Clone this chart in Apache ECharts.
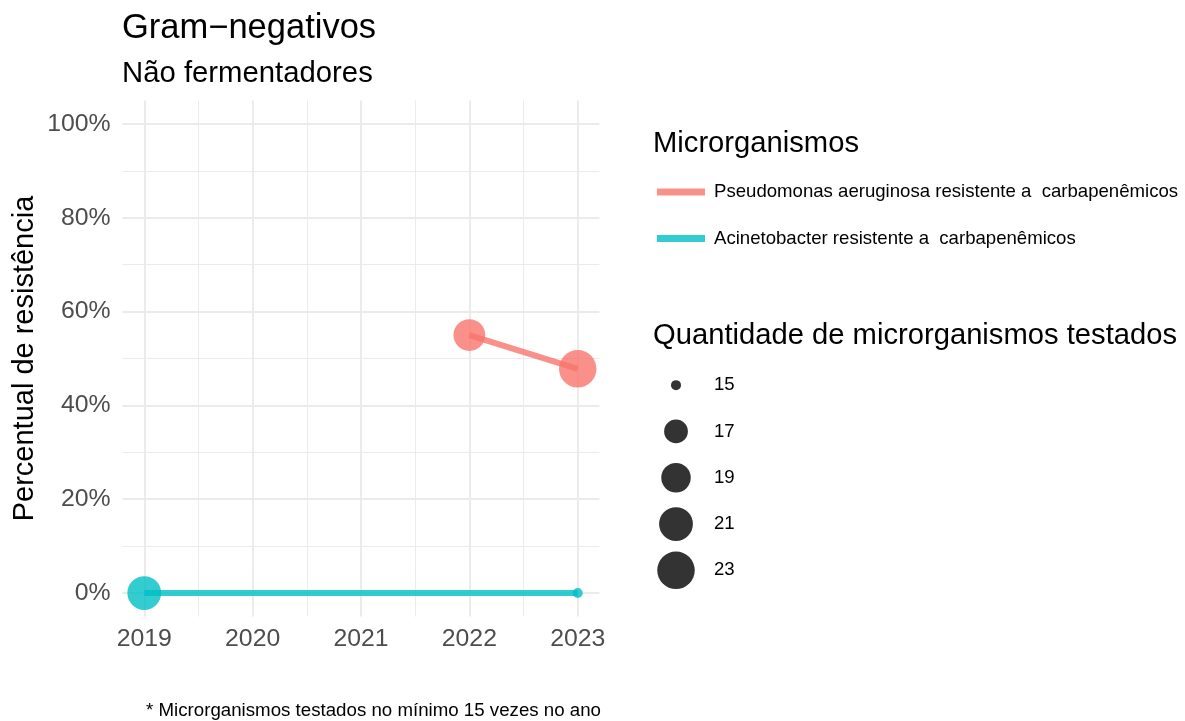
<!DOCTYPE html>
<html>
<head>
<meta charset="utf-8">
<script src="https://cdn.jsdelivr.net/npm/echarts@6/dist/echarts.min.js"></script>
<style>
	html, body { margin: 0; padding: 0; background: #fff; }
	#chart { width: 1185px; height: 721px; }
</style>
</head>
<body>
<div id="chart"></div>
<script>
var years = [2019, 2020, 2021, 2022, 2023];
var minorYears = [2019.5, 2020.5, 2021.5, 2022.5];
var yTicks = [0, 20, 40, 60, 80, 100];
var yMinor = [10, 30, 50, 70, 90];

var pseudoName = 'Pseudomonas aeruginosa resistente a  carbapenêmicos';
var pseudoYears = [2022, 2023];
var pseudoPct = [55, 47.8];
var pseudoN = [20, 23];

var acinetoName = 'Acinetobacter resistente a  carbapenêmicos';
var acinetoYears = [2019, 2023];
var acinetoPct = [0, 0];
var acinetoN = [21, 15];

var sizeBreaks = [15, 17, 19, 21, 23];

var font = 'Liberation Sans';

// ggplot style area scale: n 15..23 -> diameter in px
function pointSize(n) {
	return 10 + 27.5 * Math.sqrt((n - 15) / 8);
}

function rows(xs, ys, ns) {
	return xs.map(function(x, i) { return [x, ys[i], ns[i]]; });
}

var myChart = echarts.init(document.getElementById('chart'));

function lineSeries(name, color, data) {
	return {
		name: name,
		type: 'line',
		xAxisIndex: 0,
		yAxisIndex: 0,
		data: data,
		symbol: 'circle',
		symbolSize: function(v) { return pointSize(v[2]); },
		itemStyle: { color: color, borderWidth: 0 },
		lineStyle: { color: color, width: 6 },
		emphasis: { disabled: true },
		z: 3
	};
}

var option = {
	animation: false,
	title: [{
		text: 'Gram\u2212negativos',
		left: 122, top: 11, padding: 0,
		textStyle: { fontFamily: font, fontSize: 34.5, fontWeight: 'normal', color: '#000', lineHeight: 34 }
	}, {
		text: 'Não fermentadores',
		left: 122, top: 59, padding: 0,
		textStyle: { fontFamily: font, fontSize: 29.3, fontWeight: 'normal', color: '#000', lineHeight: 29 }
	}, {
		text: 'Microrganismos',
		left: 653, top: 129, padding: 0,
		textStyle: { fontFamily: font, fontSize: 29.2, fontWeight: 'normal', color: '#000', lineHeight: 29 }
	}, {
		text: 'Quantidade de microrganismos testados',
		left: 653, top: 321, padding: 0,
		textStyle: { fontFamily: font, fontSize: 29.2, fontWeight: 'normal', color: '#000', lineHeight: 29 }
	}, {
		text: '* Microrganismos testados no mínimo 15 vezes no ano',
		right: 584, top: 701, padding: 0,
		textStyle: { fontFamily: font, fontSize: 18.7, fontWeight: 'normal', color: '#000', lineHeight: 19 }
	}],
	legend: {
		data: [pseudoName, acinetoName],
		orient: 'vertical',
		left: 657, top: 182,
		padding: 0,
		icon: 'rect',
		itemWidth: 48, itemHeight: 7,
		itemGap: 26.5,
		selectedMode: false,
		textStyle: { fontFamily: font, fontSize: 18.6, color: '#000', lineHeight: 20, padding: [0, 0, 0, 4] }
	},
	grid: [{
		left: 122.6, top: 100.5, width: 476.8, height: 516
	}, {
		left: 650, top: 362, width: 52, height: 231.5
	}],
	xAxis: [{
		type: 'value', gridIndex: 0,
		min: 2018.8, max: 2023.2,
		axisLine: { show: false },
		axisTick: { show: false, customValues: years },
		axisLabel: {
			customValues: years, margin: 10,
			fontFamily: font, fontSize: 24.8, color: '#4D4D4D', lineHeight: 25,
			formatter: function(v) { return String(v); }
		},
		splitLine: { show: true, lineStyle: { color: '#EBEBEB', width: 2 } }
	}, {
		type: 'value', gridIndex: 0,
		min: 2018.8, max: 2023.2,
		position: 'top',
		axisLine: { show: false },
		axisTick: { show: false, customValues: minorYears },
		axisLabel: { show: false, customValues: minorYears },
		splitLine: { show: true, lineStyle: { color: '#EBEBEB', width: 1 } }
	}, {
		type: 'value', gridIndex: 1,
		min: 0, max: 1, show: false
	}],
	yAxis: [{
		type: 'value', gridIndex: 0,
		min: -5, max: 105,
		name: 'Percentual de resistência',
		nameLocation: 'middle', nameRotate: 90, nameGap: 83,
		nameTextStyle: { fontFamily: font, fontSize: 29, color: '#000', lineHeight: 29 },
		axisLine: { show: false },
		axisTick: { show: false, customValues: yTicks },
		axisLabel: {
			customValues: yTicks, margin: 12,
			fontFamily: font, fontSize: 24.8, color: '#4D4D4D',
			padding: [5, 0, 0, 0],
			formatter: '{value}%'
		},
		splitLine: { show: true, lineStyle: { color: '#EBEBEB', width: 2 } }
	}, {
		type: 'value', gridIndex: 0,
		min: -5, max: 105,
		position: 'right',
		axisLine: { show: false },
		axisTick: { show: false, customValues: yMinor },
		axisLabel: { show: false, customValues: yMinor },
		splitLine: { show: true, lineStyle: { color: '#EBEBEB', width: 1 } }
	}, {
		type: 'category', gridIndex: 1,
		data: sizeBreaks.map(String),
		inverse: true,
		position: 'right',
		axisLine: { show: false },
		axisTick: { show: false },
		splitLine: { show: false },
		axisLabel: { margin: 12, fontFamily: font, fontSize: 18.6, color: '#000' }
	}],
	series: [
		lineSeries(pseudoName, 'rgba(248,118,109,0.8)', rows(pseudoYears, pseudoPct, pseudoN)),
		lineSeries(acinetoName, 'rgba(0,191,196,0.8)', rows(acinetoYears, acinetoPct, acinetoN)),
		{
			name: 'tamanho',
			type: 'scatter',
			xAxisIndex: 2,
			yAxisIndex: 2,
			data: sizeBreaks.map(function(n) { return [0.5, String(n), n]; }),
			symbol: 'circle',
			symbolSize: function(v) { return pointSize(v[2]); },
			itemStyle: { color: '#333333', opacity: 1 },
			emphasis: { disabled: true }
		}
	]
};
myChart.setOption(option);
</script>
</body>
</html>
